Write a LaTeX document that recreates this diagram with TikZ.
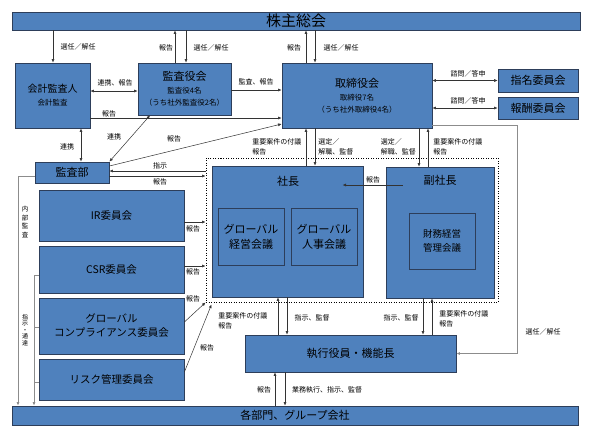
\documentclass[tikz,border=0pt]{standalone}
\usepackage{fontspec}
\setmainfont{Noto Sans CJK JP}
\usetikzlibrary{arrows.meta}
\definecolor{boxblue}{RGB}{79,129,189}
\definecolor{boxline}{RGB}{45,62,90}
\newcommand{\fs}[2]{\fontsize{#1}{#2}\selectfont}
\begin{document}
\begin{tikzpicture}[x=1pt, y=-1pt, line width=.5pt, >={Latex[length=3.5pt,width=3pt]},
	box/.style={draw=boxline, fill=boxblue, line width=.8pt, align=center, inner sep=0pt},
	lbl/.style={font=\fs{7}{10}, inner sep=0pt, align=left},
	con/.style={draw=black!80},
	longcon/.style={draw=black!45, line width=.9pt}]
\useasboundingbox (0,0) rectangle (600,437);
\node[box, minimum width=568, minimum height=18, font=\fs{15}{18}] (kabu) at (296,21) {株主総会};
\node[box, minimum width=75, minimum height=65] (kaikei) at (52.5,95.5)
	{{\fs{10}{12}会計監査人}\\[1pt]{\fs{7.5}{9}会計監査}};
\node[box, minimum width=93, minimum height=52] (kansayaku) at (184.5,89)
	{{\fs{11}{13}監査役会}\\[1pt]{\fs{7.5}{10}監査役4名}\\{\fs{7.5}{10}（うち社外監査役2名）}};
\node[box, minimum width=150, minimum height=65] (tori) at (357,95.5)
	{{\fs{11}{13}取締役会}\\[1pt]{\fs{7.5}{10}取締役7名}\\{\fs{7.5}{10}（うち社外取締役4名）}};
\node[box, minimum width=80, minimum height=23, font=\fs{11}{13}] (shimei) at (538,80.5) {指名委員会};
\node[box, minimum width=80, minimum height=22, font=\fs{11}{13}] (hoshu) at (538,108) {報酬委員会};
\node[box, minimum width=74, minimum height=21, font=\fs{11}{13}] (kansabu) at (72,172.5) {監査部};
\node[box, minimum width=145, minimum height=51, font=\fs{10.5}{13}] (ir) at (111.5,215.5) {IR委員会};
\node[box, minimum width=145, minimum height=47, font=\fs{10.5}{13}] (csr) at (111.5,270) {CSR委員会};
\node[box, minimum width=145, minimum height=56, font=\fs{10.5}{14}] (comp) at (111.5,326)
	{グローバル\\コンプライアンス委員会};
\node[box, minimum width=145, minimum height=41, font=\fs{10.5}{13}] (risk) at (111.5,379.5) {リスク管理委員会};
\node[box, minimum width=566, minimum height=19, font=\fs{11}{13}] (kakubu) at (295,415.5) {各部門、グループ会社};
\node[draw=black, line width=1pt, dash pattern=on 1pt off 1.5pt, minimum width=292, minimum height=144] (exec) at (352,230) {};
\node[box, minimum width=151, minimum height=131] (shacho) at (287.5,231.5) {};
\node[box, minimum width=108, minimum height=131] (fuku) at (440,232.5) {};
\node[font=\fs{11}{13}] (shachol) at (288,181) {社長};
\node[font=\fs{11}{13}] (fukul) at (440,180) {副社長};
\node[box, minimum width=66, minimum height=57, font=\fs{11}{15}] (keiei) at (251,236.5) {グローバル\\経営会議};
\node[box, minimum width=66, minimum height=57, font=\fs{11}{15}] (jinji) at (324,236.5) {グローバル\\人事会議};
\node[box, minimum width=66, minimum height=56, font=\fs{9.5}{14}] (zaimu) at (442,241) {財務経営\\管理会議};
\node[box, minimum width=211, minimum height=37, font=\fs{11}{13}] (shikko) at (350.5,353.5) {執行役員・機能長};
\foreach \x/\a/\b in {53/kabu/kaikei, 186/kabu/kansayaku, 315/kabu/tori, 315/tori/shacho,
	419/tori/fuku, 287/shacho/shikko, 423/fuku/shikko, 285/shikko/kakubu}
	\draw[con,->] (\x,0 |- \a.south) -- (\x,0 |- \b.north);
\foreach \x/\a/\b in {175/kansayaku/kabu, 306/tori/kabu, 306/shacho/tori, 428/fuku/tori,
	278/shikko/shacho, 432/shikko/fuku, 275/kakubu/shikko}
	\draw[con,->] (\x,0 |- \a.north) -- (\x,0 |- \b.south);
\draw[con,<->] (81,0 |- kaikei.south) -- (81,0 |- kansabu.north);
\draw[con,<->] (kaikei.east |- 0,91) -- (kansayaku.west |- 0,91);
\draw[con,->] (kansayaku.east |- 0,90) -- (tori.west |- 0,90);
\draw[con,->] (kaikei.east |- 0,118) -- (tori.west |- 0,118);
\draw[con,<->] (tori.east |- shimei) -- (shimei);
\draw[con,<->] (tori.east |- hoshu) -- (hoshu);
\draw[con,<->] (kansabu.north east) -- (150,0 |- kansayaku.south);
\draw[con,->] (kansabu.east |- 0,166) -- (tori.west |- 0,124);
\draw[con,->] (exec.west |- 0,171) -- (kansabu.east |- 0,171);
\draw[con,->] (kansabu.east |- 0,176) -- (exec.west |- 0,176);
\draw[con,->] ([xshift=-17pt,yshift=-5pt]fukul.west) -- ([xshift=40pt,yshift=-4pt]shachol.east);
\foreach \b/\y in {ir/222, csr/266}
	\draw[con,->] (\b.east |- 0,\y) -- (exec.west |- 0,\y);
\draw[con,->] (comp.east |- 0,322) -- (exec.south west);
\draw[con,->] (risk.east |- 0,372) -- ([xshift=6pt,yshift=-2pt]exec.south west);
\draw[longcon,->] (tori.east |- 0,125) -- (517,125) |- (shikko);
\draw[longcon,->] (kansabu.west |- 0,176) -| (18,0 |- kakubu.north);
\draw[longcon,->] (csr.west |- 0,275) -| (34,0 |- kakubu.north);
\foreach \b/\y in {comp/327, risk/382}
	\draw[longcon] (\b.west |- 0,\y) -- (34,\y);
\foreach \x/\y/\t [count=\i] in {78/47/選任／解任, 166/48/報告, 211/48/選任／解任, 294/48/報告,
	341/48/選任／解任, 115/83/連携、報告, 256/82/監査、報告, 109/114/報告, 114/137/連携,
	174/139/報告, 67/147/連携, 468/74/諮問／答申, 468/101/諮問／答申, 160/166/指示,
	160/182/報告, 373/180/報告, 193/229/報告, 193/272/報告, 193/299/報告, 207/348/報告,
	312/318/指示、監督, 401/318/指示、監督, 543/332/選任／解任, 264/390/報告,
	327/390/業務執行、指示、監督}
	\node[lbl] (lab\i) at (\x,\y) {\t};
\node[lbl, anchor=west] (fugi1) at (252,147) {重要案件の付議\\報告};
\node[lbl, anchor=west] (sentei1) at (318,147) {選定／\\解職、監督};
\node[lbl, anchor=east] (sentei2) at (416,147) {選定／\\解職、監督};
\node[lbl, anchor=west] (fugi2) at (433,147) {重要案件の付議\\報告};
\node[lbl, anchor=west] (fugi3) at (218,321) {重要案件の付議\\報告};
\node[lbl, anchor=west] (fugi4) at (439,319) {重要案件の付議\\報告};
\node[lbl, align=center, font=\fs{6.5}{8.5}] (naibu) at (25,222) {内\\部\\監\\査};
\node[lbl, align=center, font=\fs{6}{6.5}] (shiji) at (25,330) {指\\示\\・\\通\\達};
\end{tikzpicture}
\end{document}
